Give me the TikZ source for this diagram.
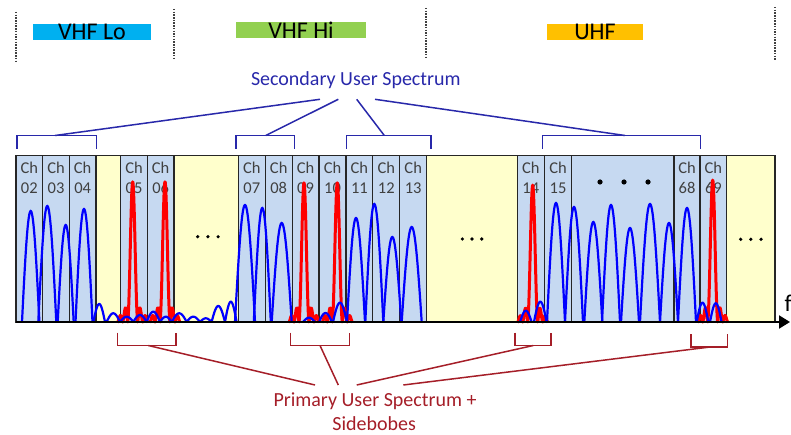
\documentclass[tikz,border=0pt]{standalone}
\usepackage{fontspec}
\setmainfont{Carlito}
\usetikzlibrary{arrows.meta}

\definecolor{chblue}{HTML}{C6D9F1}
\definecolor{gapyellow}{HTML}{FFFFCC}
\definecolor{vhflocol}{HTML}{00B0F0}
\definecolor{vhfhicol}{HTML}{92D050}
\definecolor{uhfcol}{HTML}{FFC000}
\definecolor{suline}{RGB}{40,40,170}
\definecolor{puline}{RGB}{165,30,40}
\definecolor{chtext}{HTML}{404040}

% main lobe of a secondary-user carrier: centre, half width, peak height
\newcommand{\lobearch}[3]{%
  \draw[sulobe] plot[domain=-1:1, samples=41, smooth]
    ({#1+#2*\x},{322-(322-#3)*cos(90*\x)});}
% primary-user carrier: sinc^1.5 spike with its sidelobes; centre, peak height
\newcommand{\puspike}[2]{%
  \draw[pulobe] plot[domain=-3.01:3.01, samples=150]
    ({#1+5*\x},{322-(322-#2)*abs(sin(180*\x)/(pi*\x))*sqrt(abs(sin(180*\x)/(pi*\x)))});}

\begin{document}
\begin{tikzpicture}[x=1pt,y=-1pt,
  cell/.style={draw=black!85, line width=1.2pt},
  bandbox/.style={inner sep=0pt, minimum height=16pt, text depth=0pt,
                  font=\fontsize{24}{28}\selectfont},
  bandsep/.style={draw=black!75, line width=1.2pt, dash pattern=on 1.5pt off 1.2pt},
  chlab/.style={font=\fontsize{16.5}{20}\selectfont, text=chtext, anchor=base, inner sep=0pt},
  sulobe/.style={draw=blue, line width=2.2pt},
  pulobe/.style={draw=red, line width=3pt, line join=round},
  subracket/.style={draw=suline, line width=1.5pt},
  pubracket/.style={draw=puline, line width=1.5pt},
  sulabel/.style={text=suline, font=\fontsize{20}{25}\selectfont, anchor=base, inner sep=0pt},
  pulabel/.style={text=puline, font=\fontsize{20}{25}\selectfont, anchor=base, inner sep=0pt},
  axisline/.style={draw=black, line width=2pt, -{Triangle[length=11pt,width=13pt]}},
]
\useasboundingbox (0,0) rectangle (791,435);
\clip (0,0) rectangle (791,435);

% ---- band separators and band names
\draw[bandsep] (16,12) -- (16,61);
\draw[bandsep] (174,9) -- (174,59);
\draw[bandsep] (426,8) -- (426,57);
\draw[bandsep] (775,7) -- (775,61);
\node[bandbox, fill=vhflocol, minimum width=118pt] (vhflo) at (92,32) {VHF Lo};
\node[bandbox, fill=vhfhicol, minimum width=130pt, minimum height=14pt] (vhfhi) at (301,30.2) {VHF Hi};
\node[bandbox, fill=uhfcol, minimum width=96pt] (uhf) at (595,32.2) {UHF};

% ---- spectrum cells
\foreach \xa/\xb in {96/120.67, 174/238.33, 426.67/517.3, 726.7/775}
  \filldraw[cell, fill=gapyellow] (\xa,155.5) rectangle (\xb,322);
\filldraw[cell, fill=chblue] (571.7,155.5) rectangle (674,322);
\foreach \nm/\xa/\xb in {02/16/42.67, 03/42.67/69.33, 04/69.33/96,
    05/120.67/147.33, 06/147.33/174,
    07/238.33/265.24, 08/265.24/292.14, 09/292.14/319.05, 10/319.05/345.95,
    11/345.95/372.86, 12/372.86/399.76, 13/399.76/426.67,
    14/517.3/544.3, 15/544.3/571.7, 68/674/700, 69/700/726.7}{
  \filldraw[cell, fill=chblue] (\xa,155.5) rectangle (\xb,322);
  \node[chlab] (ch\nm-a) at ({(\xa+\xb)/2},173.3) {Ch};
  \node[chlab] (ch\nm-b) at ({(\xa+\xb)/2},193.3) {\nm};
}

% ---- ellipsis dots
\foreach \x in {197.7,207.9,218.1} \fill (\x,236.7) circle (1.8);
\foreach \x in {462.3,472,481.7} \fill (\x,239) circle (1.8);
\foreach \x in {740.7,750.8,761} \fill (\x,239.3) circle (1.8);
\foreach \x in {600,624,648} \fill (\x,182) circle (2.6);

% ---- primary users
\puspike{132.7}{181.7}
\puspike{165}{181.7}
\puspike{304}{182.7}
\puspike{337.3}{182.7}
\puspike{532.7}{185}
\puspike{712.7}{180}

% ---- secondary users: main lobes
\foreach \c/\w/\p in {30.7/8.7/211, 47.3/9/206, 65.7/8/225, 84/8.5/209,
    245/10/205, 262.3/8.5/208, 281.7/10/223,
    356/9/218, 374.3/9/204, 392.3/9/237, 411.7/10/227,
    556/9/203, 574/9/207, 593.3/9/222, 611/9/205, 630/9/228,
    650/10/204, 669/9/223, 687/9/208}{
  \lobearch{\c}{\w}{\p}
}
% ---- secondary users: sidelobes
\foreach \c/\w/\p in {99.2/5.8/304, 113.3/6.7/313.3, 126.7/6.7/316.7, 140/6.7/315,
    153.3/6.7/311.7, 165.8/5.8/316.7, 179.2/7.5/313.3, 193.3/6.7/316.7,
    205.8/5.8/318.3, 218.3/6.7/306, 230.8/5.8/301.7,
    309/6/317.7, 325.5/6.5/313, 340/7/302.7,
    525.8/5.8/310.7, 540.3/6.3/301.7,
    702.5/5.8/302.7, 715.8/5.8/303.3}{
  \lobearch{\c}{\w}{\p}
}

% ---- frequency axis
\coordinate (axstart) at (16,322);
\coordinate (axend) at (790,322);
\draw[axisline] (axstart) -- (axend);
\node[anchor=base west, inner sep=0pt, font=\fontsize{24}{28}\selectfont] (flab) at (784.5,311.7) {f};

% ---- secondary user brackets
\node[sulabel] (sus) at (355.8,86) {Secondary User Spectrum};
\coordinate (su1) at (320,99.3);
\coordinate (su2) at (338.3,99.3);
\coordinate (su3) at (356.7,99.3);
\coordinate (su4) at (375,99.3);
\coordinate (sb1l) at (17,149);   \coordinate (sb1m) at (55,135.5);    \coordinate (sb1r) at (96.7,149);
\coordinate (sb2l) at (236,149);  \coordinate (sb2m) at (265.7,135.5); \coordinate (sb2r) at (294.3,149);
\coordinate (sb3l) at (346.7,149);\coordinate (sb3m) at (384.3,135.5); \coordinate (sb3r) at (431,149);
\coordinate (sb4l) at (542.7,149);\coordinate (sb4m) at (625,135.5);   \coordinate (sb4r) at (700.7,149);
\foreach \i in {1,2,3,4}{
  \draw[subracket] (sb\i l) |- (sb\i m) -| (sb\i r);
  \draw[subracket] (sb\i m) -- (su\i);
}

% ---- primary user brackets
\node[pulabel] (pus1) at (375,406) {Primary User Spectrum +};
\node[pulabel] (pus2) at (374.2,430.3) {Sidebobes};
\coordinate (pu1) at (315,385);
\coordinate (pu2) at (338.3,385);
\coordinate (pu3) at (356.7,385);
\coordinate (pu4) at (403.3,385);
\coordinate (pb1l) at (117.3,332.7); \coordinate (pb1m) at (148.3,345.5); \coordinate (pb1r) at (176,332.7);
\coordinate (pb2l) at (290.7,332.7); \coordinate (pb2m) at (320,345.5);   \coordinate (pb2r) at (349.3,332.7);
\coordinate (pb3l) at (515,332.7);   \coordinate (pb3m) at (533.3,345.5); \coordinate (pb3r) at (551,332.7);
\coordinate (pb4l) at (691,334);     \coordinate (pb4m) at (710,347);     \coordinate (pb4r) at (727.3,334);
\foreach \i in {1,2,3,4}{
  \draw[pubracket] (pb\i l) |- (pb\i m) -| (pb\i r);
  \draw[pubracket] (pb\i m) -- (pu\i);
}
\end{tikzpicture}
\end{document}
